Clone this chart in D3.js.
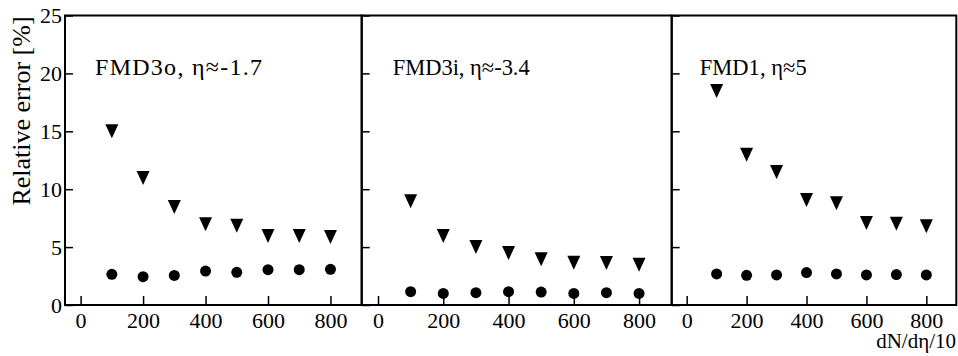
<!DOCTYPE html>
<html>
<head>
<meta charset="utf-8">
<script src="https://cdn.jsdelivr.net/npm/d3@7"></script>
<style>
  html, body { margin: 0; padding: 0; background: #fff; }
  svg { display: block; }
  text { font-family: "Liberation Serif", "Times New Roman", serif; fill: #000; }
</style>
</head>
<body>
<svg id="chart" width="958" height="356"></svg>
<script>
// ---- data ----
const xValues = [100, 200, 300, 400, 500, 600, 700, 800];
const panelLabels = ["FMD3o, η≈-1.7", "FMD3i, η≈-3.4", "FMD1, η≈5"];
const fmd3oTriangles = [15.0, 10.97, 8.46, 6.97, 6.85, 5.96, 5.96, 5.87];
const fmd3oCircles   = [2.65, 2.45, 2.55, 2.93, 2.82, 3.05, 3.05, 3.08];
const fmd3iTriangles = [8.95, 5.96, 5.0, 4.49, 3.94, 3.65, 3.63, 3.48];
const fmd3iCircles   = [1.15, 1.0, 1.06, 1.15, 1.12, 1.0, 1.06, 1.0];
const fmd1Triangles  = [18.48, 12.98, 11.49, 9.07, 8.78, 7.08, 7.02, 6.8];
const fmd1Circles    = [2.68, 2.56, 2.6, 2.8, 2.68, 2.6, 2.63, 2.6];
const yTicks = [0, 5, 10, 15, 20, 25];
const xTicks = [0, 200, 400, 600, 800];
const xDomain = [-50, 900];
const yDomain = [0, 25];
const yTitle = "Relative error [%]";
const xTitle = "dN/dη/10";

const triSeries = [fmd3oTriangles, fmd3iTriangles, fmd1Triangles];
const circSeries = [fmd3oCircles, fmd3iCircles, fmd1Circles];

// ---- layout ----
const svg = d3.select("#chart");
const plotTop = 15.5, plotBottom = 305;
const panelEdges = [65, 361.7, 671.7, 956.3];
const labelSizes = [24, 22.5, 22.5];
const labelOffsets = [30, 31, 28];
const labelWidths = [167, 137, 107];

const y = d3.scaleLinear().domain(yDomain).range([plotBottom, plotTop]);

const invTriangle = {
  draw(ctx, size) {
    const w = 13, h = 14;
    ctx.moveTo(-w / 2, -h / 2);
    ctx.lineTo(w / 2, -h / 2);
    ctx.lineTo(0, h / 2);
    ctx.closePath();
  }
};

panelLabels.forEach((lab, i) => {
  const x0 = panelEdges[i], x1 = panelEdges[i + 1];
  const x = d3.scaleLinear().domain(xDomain).range([x0, x1]);
  const g = svg.append("g");

  // y axis (ticks inside)
  const yAxis = d3.axisLeft(y).tickValues(yTicks).tickSize(-8).tickPadding(3)
    .tickFormat(i === 0 ? d3.format("d") : () => "");
  const ya = g.append("g").attr("transform", `translate(${x0},0)`).call(yAxis);
  ya.select(".domain").remove();
  ya.selectAll("line").attr("stroke", "#000").attr("stroke-width", 1.5);
  ya.selectAll("text").style("font-size", "22px");

  // x axis (ticks inside)
  const xAxis = d3.axisBottom(x).tickValues(xTicks).tickSize(-9).tickPadding(7)
    .tickFormat(d3.format("d"));
  const xa = g.append("g").attr("transform", `translate(0,${plotBottom})`).call(xAxis);
  xa.select(".domain").remove();
  xa.selectAll("line").attr("stroke", "#000").attr("stroke-width", 1.5);
  xa.selectAll("text").style("font-size", "22px");

  // frame
  g.append("rect")
    .attr("x", x0).attr("y", plotTop)
    .attr("width", x1 - x0).attr("height", plotBottom - plotTop)
    .attr("fill", "none").attr("stroke", "#000").attr("stroke-width", 2);

  // circles
  g.selectAll("circle.pt").data(circSeries[i]).enter().append("circle")
    .attr("class", "pt")
    .attr("cx", (d, j) => x(xValues[j]))
    .attr("cy", d => y(d))
    .attr("r", 5.5)
    .attr("fill", "#000");

  // triangles
  const sym = d3.symbol().type(invTriangle);
  g.selectAll("path.tri").data(triSeries[i]).enter().append("path")
    .attr("class", "tri")
    .attr("d", sym)
    .attr("transform", (d, j) => `translate(${x(xValues[j])},${y(d)})`)
    .attr("fill", "#000");

  // panel label
  g.append("text")
    .attr("x", x0 + labelOffsets[i]).attr("y", 75)
    .attr("textLength", labelWidths[i])
    .attr("lengthAdjust", "spacing")
    .style("font-size", labelSizes[i] + "px")
    .text(lab);
});

// y title
svg.append("text")
  .attr("transform", "translate(30,111) rotate(-90)")
  .attr("text-anchor", "middle")
  .style("font-size", "26px")
  .text(yTitle);

// x title
svg.append("text")
  .attr("x", 956).attr("y", 348)
  .attr("text-anchor", "end")
  .style("font-size", "21px")
  .text(xTitle);
</script>
</body>
</html>
